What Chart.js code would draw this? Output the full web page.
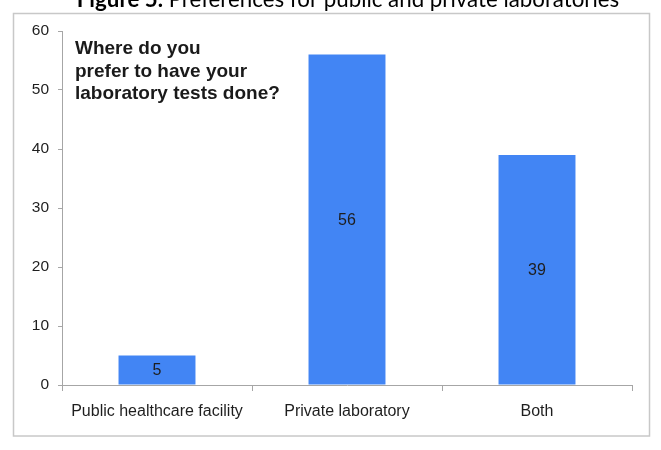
<!DOCTYPE html>
<html>
<head>
<meta charset="utf-8">
<script src="https://cdn.jsdelivr.net/npm/chart.js@4.4.0/dist/chart.umd.min.js"></script>
<style>
  html, body { margin: 0; padding: 0; background: #ffffff; }
  #wrap { width: 661px; height: 450px; position: relative; }
</style>
</head>
<body>
<div id="wrap"><canvas id="c" width="661" height="450"></canvas></div>
<script>
const categories = ["Public healthcare facility", "Private laboratory", "Both"];
const values = [5, 56, 39];
const yTicks = [0, 10, 20, 30, 40, 50, 60];
const figureTitleBold = "Figure 5.";
const figureTitleRest = " Preferences for public and private laboratories";
const questionLines = ["Where do you", "prefer to have your", "laboratory tests done?"];

const barColor = "rgb(66,133,244)";
const axisColor = "#a6a6a6";
const textColor = "#1e1e1e";

const decorPlugin = {
  id: "decor",
  beforeDraw(chart) {
    const ctx = chart.ctx;
    ctx.save();
    ctx.fillStyle = "#ffffff";
    ctx.fillRect(0, 0, chart.width, chart.height);
    // outer frame
    ctx.strokeStyle = "#c8c8c8";
    ctx.lineWidth = 1.5;
    ctx.strokeRect(13.5, 13.5, 636, 422.5);
    // figure title (cut at top)
    ctx.textBaseline = "alphabetic";
    ctx.fillStyle = "#000000";
    const fs = 22.3;
    ctx.font = "bold " + fs + "px Lato, 'Open Sans', sans-serif";
    const wb = ctx.measureText(figureTitleBold).width;
    ctx.font = fs + "px Lato, 'Open Sans', sans-serif";
    const wr = ctx.measureText(figureTitleRest).width;
    const x0 = 348 - (wb + wr) / 2;
    ctx.font = "bold " + fs + "px Lato, 'Open Sans', sans-serif";
    ctx.fillText(figureTitleBold, x0, 7);
    ctx.font = fs + "px Lato, 'Open Sans', sans-serif";
    ctx.fillText(figureTitleRest, x0 + wb, 7);
    ctx.restore();
  },
  afterDatasetsDraw(chart) {
    const ctx = chart.ctx;
    ctx.save();
    // question annotation
    ctx.fillStyle = "#1a1a1a";
    ctx.font = "bold 19px 'Liberation Sans', Arial, sans-serif";
    ctx.textAlign = "left";
    ctx.textBaseline = "alphabetic";
    const baselines = [54, 76.5, 99];
    questionLines.forEach((t, i) => ctx.fillText(t, 75, baselines[i]));
    // data labels centred in bars
    const meta = chart.getDatasetMeta(0);
    ctx.font = "16px 'Liberation Sans', Arial, sans-serif";
    ctx.textAlign = "center";
    ctx.textBaseline = "middle";
    ctx.fillStyle = textColor;
    meta.data.forEach((bar, i) => {
      const p = bar.getProps(["x", "y", "base"], true);
      ctx.fillText(String(values[i]), p.x, (p.y + p.base) / 2 + 1);
    });
    ctx.restore();
  }
};

new Chart(document.getElementById("c"), {
  type: "bar",
  data: {
    labels: categories,
    datasets: [{
      data: values,
      backgroundColor: barColor,
      borderWidth: 0,
      categoryPercentage: 1.0,
      barPercentage: 0.405
    }]
  },
  options: {
    responsive: false,
    animation: false,
    devicePixelRatio: 1,
    layout: { padding: { left: 13, right: 29, top: 31, bottom: 0 } },
    plugins: {
      legend: { display: false },
      title: { display: false },
      tooltip: { enabled: false }
    },
    scales: {
      x: {
        grid: {
          display: true,
          drawOnChartArea: false,
          drawTicks: true,
          tickLength: 6,
          color: axisColor,
          offset: true
        },
        border: { display: true, color: axisColor, width: 1 },
        ticks: {
          color: textColor,
          font: { family: "'Liberation Sans', Arial, sans-serif", size: 16 },
          padding: 11,
          maxRotation: 0,
          autoSkip: false
        },
        afterFit(scale) { scale.height = 65; }
      },
      y: {
        min: 0,
        max: 60,
        afterBuildTicks(scale) { scale.ticks = yTicks.map(v => ({ value: v })); },
        grid: {
          display: true,
          drawOnChartArea: false,
          drawTicks: true,
          tickLength: 4,
          color: axisColor
        },
        border: { display: true, color: axisColor, width: 1 },
        ticks: {
          color: textColor,
          font: { family: "'Liberation Sans', Arial, sans-serif", size: 15.5 },
          padding: 9
        },
        afterFit(scale) { scale.width = 49; }
      }
    }
  },
  plugins: [decorPlugin]
});
</script>
</body>
</html>
